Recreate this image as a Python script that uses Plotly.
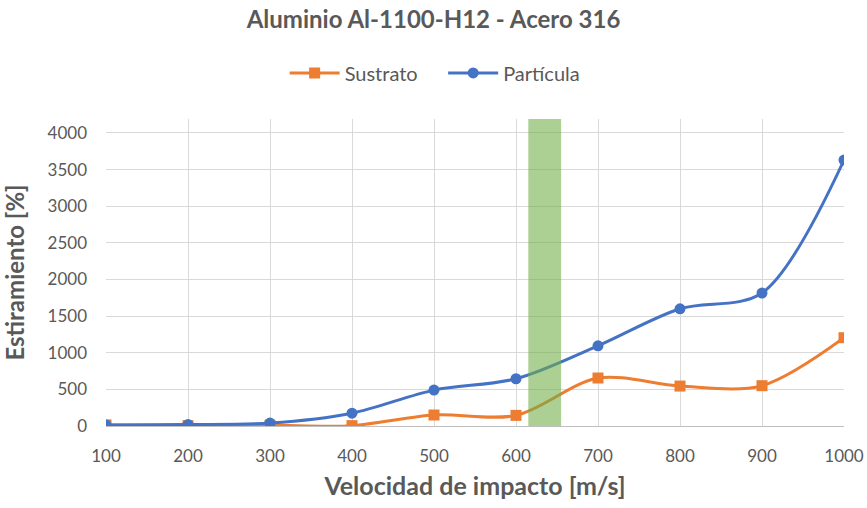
import plotly.graph_objects as go

velocidad = [100, 200, 300, 400, 500, 600, 700, 800, 900, 1000]
sustrato = [15, 5, 10, 5, 150, 145, 655, 545, 550, 1205]
particula = [15, 20, 40, 175, 490, 645, 1095, 1600, 1815, 3630]
banda = [615, 655]

gris = "#595959"
fuente = "Lato"
hueco = "\u00a0" * 4

fig = go.Figure()
fig.add_trace(go.Scatter(
    x=velocidad, y=sustrato, name="Sustrato" + hueco, mode="lines+markers",
    line=dict(color="#ED7D31", width=3, shape="spline", smoothing=0.9),
    marker=dict(symbol="square", size=11, color="#ED7D31"),
))
fig.add_trace(go.Scatter(
    x=velocidad, y=particula, name="Partícula", mode="lines+markers",
    line=dict(color="#4472C4", width=3, shape="spline", smoothing=0.9),
    marker=dict(symbol="circle", size=11, color="#4472C4"),
))

fig.add_shape(type="rect", xref="x", yref="y", x0=banda[0], x1=banda[1],
              y0=0, y1=4190, fillcolor="rgba(112,173,71,0.58)",
              line=dict(width=0), layer="above")

fig.update_layout(
    width=867, height=508,
    paper_bgcolor="white", plot_bgcolor="white",
    margin=dict(l=106, r=23, t=119, b=82, autoexpand=False),
    font=dict(family=fuente, color=gris, size=17),
    title=dict(text="<b>Aluminio Al-1100-H12 - Acero 316</b>", x=0.5, xanchor="center",
               y=0.962, yanchor="middle", font=dict(size=24, color=gris)),
    legend=dict(orientation="h", x=0.446, xanchor="center", y=1.15, yanchor="middle",
                font=dict(size=20, color=gris), itemwidth=50),
    showlegend=True,
)
fig.update_xaxes(
    range=[100, 1000], tickvals=velocidad, showgrid=True, gridcolor="#D9D9D9",
    gridwidth=1, showline=True, linecolor="#BFBFBF", zeroline=False,
    automargin=False, ticks="", ticklabelstandoff=15,
    tickfont=dict(size=17, color=gris),
    title=dict(text="<b>Velocidad de impacto [m/s]</b>", font=dict(size=25, color=gris),
               standoff=12),
)
fig.update_yaxes(
    range=[0, 4190], tick0=0, dtick=500, showgrid=True, gridcolor="#D9D9D9",
    gridwidth=1, zeroline=False, showline=False, ticks="", automargin=False,
    ticklabelstandoff=18, tickfont=dict(size=17, color=gris),
    title=dict(text="<b>Estiramiento [%]</b>", font=dict(size=24, color=gris),
               standoff=19),
)

fig.write_html("out.html")
